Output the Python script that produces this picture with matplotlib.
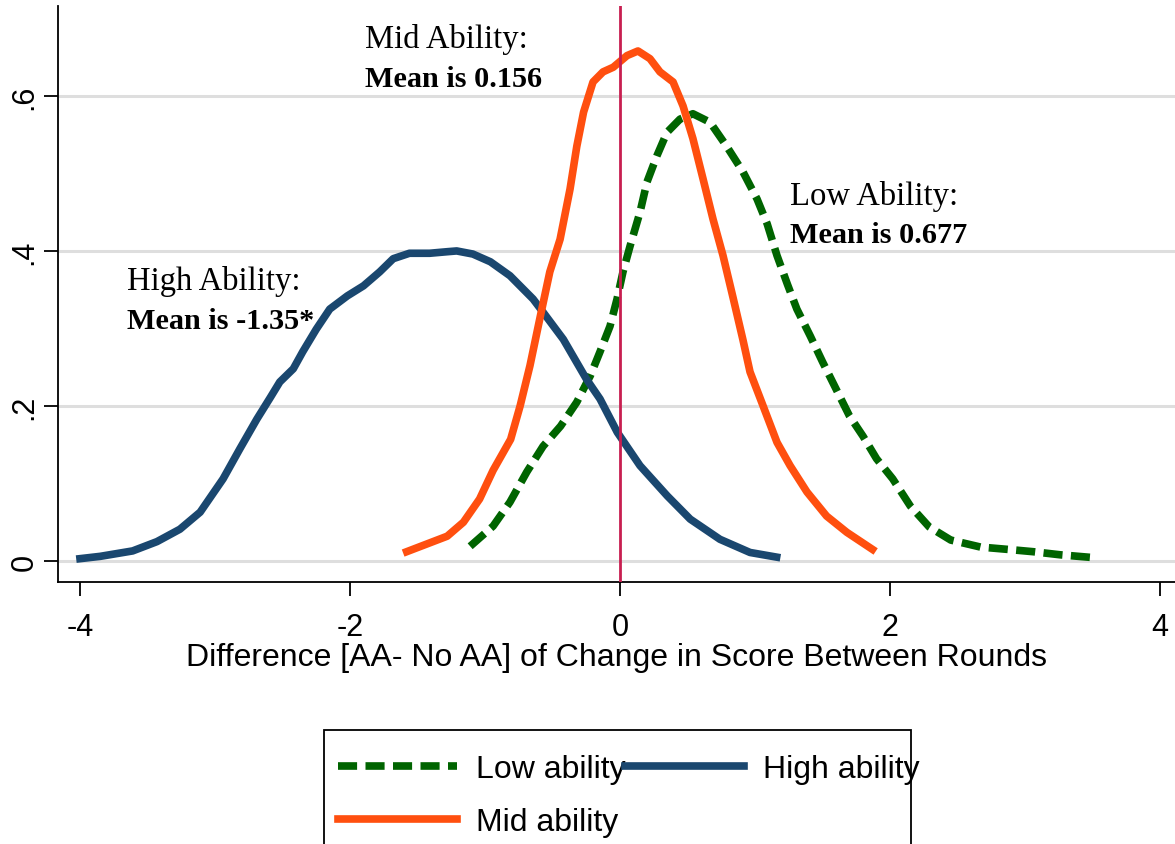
import matplotlib.pyplot as plt
import matplotlib.patches as mpatches

# Kernel density curves
low_x = [-1.11, -0.94, -0.815, -0.69, -0.57, -0.44, -0.32, -0.22, -0.148, -0.074, -0.022, 0.022,
         0.074, 0.148, 0.2, 0.274, 0.348, 0.444, 0.54, 0.667, 0.79, 0.911, 1.015, 1.09, 1.163,
         1.24, 1.31, 1.41, 1.5, 1.6, 1.7, 1.8, 1.9, 2.02, 2.15, 2.29, 2.45, 2.67, 2.87, 3.06,
         3.26, 3.53]
low_y = [0.019, 0.045, 0.076, 0.115, 0.148, 0.174, 0.205, 0.239, 0.27, 0.303, 0.338, 0.373,
         0.406, 0.45, 0.489, 0.523, 0.553, 0.57, 0.577, 0.566, 0.535, 0.502, 0.467, 0.435, 0.394,
         0.357, 0.325, 0.29, 0.257, 0.222, 0.187, 0.161, 0.132, 0.106, 0.071, 0.044, 0.027,
         0.018, 0.015, 0.012, 0.008, 0.004]

high_x = [-4.0, -3.85, -3.61, -3.43, -3.26, -3.11, -2.94, -2.815, -2.69, -2.59, -2.52, -2.42,
          -2.35, -2.25, -2.15, -2.02, -1.9, -1.78, -1.68, -1.56, -1.41, -1.28, -1.21, -1.09,
          -0.96, -0.815, -0.644, -0.57, -0.42, -0.25, -0.148, -0.02, 0.148, 0.35, 0.52, 0.74,
          0.963, 1.16]
high_y = [0.003, 0.006, 0.013, 0.025, 0.041, 0.063, 0.106, 0.145, 0.183, 0.211, 0.231, 0.248,
          0.27, 0.299, 0.325, 0.342, 0.355, 0.373, 0.39, 0.397, 0.397, 0.399, 0.4, 0.396, 0.386,
          0.368, 0.338, 0.321, 0.286, 0.235, 0.209, 0.166, 0.123, 0.084, 0.054, 0.028, 0.011,
          0.005]

mid_x = [-1.58, -1.28, -1.16, -1.04, -0.94, -0.81, -0.74, -0.667, -0.59, -0.52, -0.444, -0.37,
         -0.32, -0.27, -0.2, -0.126, -0.05, 0.052, 0.133, 0.222, 0.296, 0.393, 0.467, 0.54,
         0.615, 0.689, 0.763, 0.837, 0.911, 0.963, 1.06, 1.163, 1.26, 1.385, 1.53, 1.68, 1.87]
mid_y = [0.012, 0.032, 0.05, 0.08, 0.117, 0.157, 0.2, 0.252, 0.316, 0.373, 0.415, 0.48, 0.535,
         0.579, 0.618, 0.631, 0.637, 0.652, 0.658, 0.648, 0.631, 0.618, 0.587, 0.545, 0.493,
         0.441, 0.394, 0.34, 0.285, 0.244, 0.2, 0.153, 0.123, 0.089, 0.058, 0.037, 0.015]

xticks = [-4, -2, 0, 2, 4]
xtick_labels = ['-4', '-2', '0', '2', '4']
yticks = [0, 0.2, 0.4, 0.6]
ytick_labels = ['0', '.2', '.4', '.6']

notes = [
    (-3.65, 0.351, 'High Ability:', 'Mean is -1.35*'),
    (-1.89, 0.663, 'Mid Ability:', 'Mean is 0.156'),
    (1.26, 0.461, 'Low Ability:', 'Mean is 0.677'),
]

plt.rcParams['font.family'] = ['Liberation Sans', 'DejaVu Sans']
plt.rcParams['axes.unicode_minus'] = False

W, H = 1175, 845
fig = plt.figure(figsize=(W / 100, H / 100), dpi=100)
ax = fig.add_axes([58 / W, 1 - 583 / H, 1 - 58 / W, (583 - 7) / H])

lw = 5.5
l_low, = ax.plot(low_x, low_y, color='#006400', lw=lw, dashes=(2.5, 1.1),
                 dash_capstyle='butt', label='Low ability')
l_high, = ax.plot(high_x, high_y, color='#1a476f', lw=lw, label='High ability')
l_mid, = ax.plot(mid_x, mid_y, color='#ff4f0f', lw=lw, label='Mid ability')
ax.axvline(0, color='#c81e50', lw=2, zorder=5)

ax.set_xlim(-4.163, 4.111)
ax.set_ylim(-0.0271, 0.716)
ax.set_xticks(xticks)
ax.set_xticklabels(xtick_labels)
ax.set_yticks(yticks)
ax.set_yticklabels(ytick_labels, rotation=90, va='center')
ax.tick_params(labelsize=22, length=10, width=1.3, direction='out')
ax.tick_params(axis='x', pad=11.5)
ax.yaxis.grid(True, color='#dedede', lw=2.2)
ax.set_axisbelow(True)
for s in ['top', 'right']:
    ax.spines[s].set_visible(False)
for s in ['left', 'bottom']:
    ax.spines[s].set_linewidth(1.3)
ax.set_xlabel('Difference [AA- No AA] of Change in Score Between Rounds', fontsize=23, labelpad=0)

for x, y, head, mean in notes:
    ax.text(x, y, head, family=['Liberation Serif'], fontsize=23.5, va='baseline')
    ax.text(x, y - 0.05, mean, family=['Liberation Serif'], fontsize=21.8,
            fontweight='bold', va='baseline')

fig.legend([l_low, l_mid, l_high], ['Low ability', 'Mid ability', 'High ability'],
           loc='upper left', bbox_to_anchor=(324 / W, 1 - 741 / H), ncol=2, frameon=False,
           fontsize=23, handlelength=3.7, handletextpad=0.6, columnspacing=0,
           borderpad=0.45, borderaxespad=0, labelspacing=0.7)
fig.patches.append(mpatches.Rectangle((324 / W, -0.1), (911 - 324) / W, 0.1 + 1 - 731 / H,
                                      transform=fig.transFigure, fill=False,
                                      edgecolor='black', lw=1.3))

fig.savefig('out.png', dpi=100)
